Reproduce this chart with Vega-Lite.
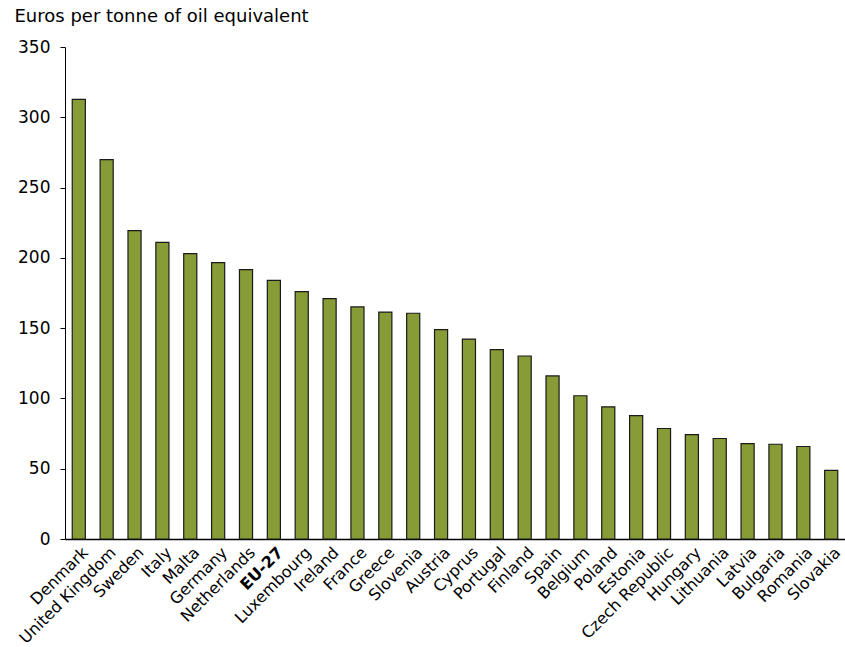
{
  "$schema": "https://vega.github.io/schema/vega-lite/v6.json",
  "autosize": {"type": "none"},
  "padding": {"left": 65, "top": 47, "right": 0, "bottom": 108},
  "width": 780,
  "height": 492,
  "background": "white",
  "config": {
    "view": {"stroke": null},
    "font": "DejaVu Sans",
    "axis": {"labelFont": "DejaVu Sans", "titleFont": "DejaVu Sans", "labelColor": "#000", "titleColor": "#000", "domainColor": "#000", "tickColor": "#000", "grid": false}
  },
  "data": {
    "values": [
      {"country": "Denmark", "value": 312.8},
      {"country": "United Kingdom", "value": 269.9},
      {"country": "Sweden", "value": 219.4},
      {"country": "Italy", "value": 211.0},
      {"country": "Malta", "value": 203.0},
      {"country": "Germany", "value": 196.6},
      {"country": "Netherlands", "value": 191.6},
      {"country": "EU-27", "value": 184.0},
      {"country": "Luxembourg", "value": 176.0},
      {"country": "Ireland", "value": 171.0},
      {"country": "France", "value": 165.1},
      {"country": "Greece", "value": 161.4},
      {"country": "Slovenia", "value": 160.6},
      {"country": "Austria", "value": 149.0},
      {"country": "Cyprus", "value": 142.2},
      {"country": "Portugal", "value": 134.7},
      {"country": "Finland", "value": 130.2},
      {"country": "Spain", "value": 116.0},
      {"country": "Belgium", "value": 101.9},
      {"country": "Poland", "value": 94.0},
      {"country": "Estonia", "value": 87.8},
      {"country": "Czech Republic", "value": 78.6},
      {"country": "Hungary", "value": 74.3},
      {"country": "Lithuania", "value": 71.5},
      {"country": "Latvia", "value": 67.9},
      {"country": "Bulgaria", "value": 67.4},
      {"country": "Romania", "value": 65.8},
      {"country": "Slovakia", "value": 48.8}
    ]
  },
  "mark": {"type": "bar", "color": "#879b37", "stroke": "#1a1a1a", "strokeWidth": 1.2},
  "encoding": {
    "x": {
      "field": "country",
      "type": "nominal",
      "sort": null,
      "scale": {"paddingInner": 0.53, "paddingOuter": 0.26},
      "axis": {
        "title": null,
        "labelAngle": -45,
        "labelFontSize": 16,
        "ticks": false,
        "labelPadding": 5,
        "labelOffset": 1,
        "domainWidth": 1.5,
        "labelFontWeight": {"condition": {"test": "datum.value == 'EU-27'", "value": "bold"}, "value": "normal"}
      }
    },
    "y": {
      "field": "value",
      "type": "quantitative",
      "scale": {"domain": [0, 350], "nice": false},
      "axis": {
        "values": [0, 50, 100, 150, 200, 250, 300, 350],
        "title": "Euros per tonne of oil equivalent",
        "titleAngle": 0,
        "titleAlign": "left",
        "titleBaseline": "alphabetic",
        "titleX": -51,
        "titleY": -26,
        "titleFontSize": 18,
        "titleFontWeight": "normal",
        "labelFontSize": 17,
        "labelPadding": 10,
        "tickSize": 5,
        "domainWidth": 1
      }
    }
  }
}
